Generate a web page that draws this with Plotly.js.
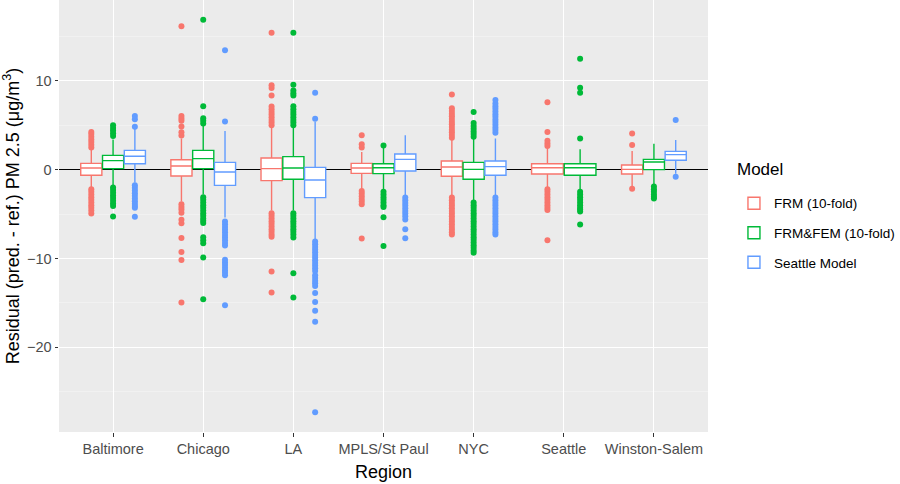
<!DOCTYPE html>
<html>
<head>
<meta charset="utf-8">
<script src="https://cdn.plot.ly/plotly-3.0.1.min.js"></script>
<style>html,body{margin:0;padding:0;background:#fff;}#chart{width:900px;height:484px;}</style>
</head>
<body>
<div id="chart"></div>
<script>
const categories = ['Baltimore','Chicago','LA','MPLS/St Paul','NYC','Seattle','Winston-Salem'];
const seriesNames = ['FRM (10-fold)','FRM&FEM (10-fold)','Seattle Model'];
const seriesColors = ['#F8766D','#00BA38','#619CFF'];
const legendTitle = 'Model';

// FRM (10-fold)
const frmQ1  = [-0.64,-0.72,-1.24,-0.42,-0.75,-0.49,-0.49];
const frmMed = [0.18,0.41,0.11,0.18,0.30,0.22,0.03];
const frmQ3  = [0.71,1.12,1.31,0.71,0.97,0.67,0.52];
const frmLo  = [-2.0,-3.6,-4.6,-2.2,-2.97,-2.0,-1.85];
const frmHi  = [2.3,3.5,4.8,2.0,3.5,2.4,2.1];
const frmOut = [
  [2.5,2.8,3.1,3.4,3.7,4.0,4.25,-2.2,-2.5,-2.8,-3.1,-3.4,-3.7,-4.0,-4.3,-4.6,-4.95],
  [3.85,4.2,4.85,5.5,5.75,6.05,16.15,-3.9,-4.2,-4.5,-4.85,-5.65,-6.05,-7.7,-9.27,-10.17,-14.96],
  [5.0,5.3,5.6,5.9,6.2,6.5,6.8,7.1,8.36,9.2,9.5,15.41,-4.9,-5.2,-5.5,-5.8,-6.1,-6.4,-6.7,-7.0,-7.3,-7.55,-11.47,-13.84],
  [2.5,2.85,3.86,-2.4,-2.7,-3.0,-3.3,-3.6,-3.9,-7.76],
  [3.6,3.9,4.2,4.5,4.8,5.1,5.4,5.7,6.0,6.3,6.6,6.9,8.47,-3.15,-3.45,-3.75,-4.05,-4.35,-4.65,-4.95,-5.25,-5.55,-5.85,-6.15,-6.45,-6.75,-7.05,-7.3],
  [2.65,2.95,3.25,4.23,7.6,-2.2,-2.5,-2.8,-3.1,-3.4,-3.7,-4.0,-4.3,-4.55,-7.95],
  [2.77,4.08,-2.15]
];

// FRM&FEM (10-fold)
const femQ1  = [0.11,0.11,-1.09,-0.45,-1.09,-0.64,0.0];
const femMed = [1.01,1.24,0.18,0.22,0.03,0.22,0.86];
const femQ3  = [1.61,2.17,1.46,0.67,0.82,0.67,1.16];
const femLo  = [-1.84,-2.8,-4.6,-2.3,-3.5,-2.3,-1.65];
const femHi  = [3.4,4.9,4.8,2.5,3.6,2.3,2.92];
const femOut = [
  [3.8,4.1,4.4,4.7,5.0,-2.0,-2.3,-2.6,-2.9,-3.2,-3.5,-3.8,-4.1,-5.29],
  [5.2,5.5,5.8,7.15,16.87,-3.1,-3.4,-3.7,-4.0,-4.3,-4.6,-4.9,-5.2,-5.5,-5.75,-6.0,-7.6,-7.95,-8.3,-9.9,-14.59],
  [5.0,5.3,5.6,5.9,6.2,6.5,6.8,7.15,8.35,8.6,8.9,9.55,15.41,-4.9,-5.2,-5.5,-5.8,-6.1,-6.4,-6.7,-7.0,-7.3,-7.65,-11.67,-14.4],
  [2.73,-2.5,-2.8,-3.1,-3.4,-3.7,-4.0,-4.2,-5.37,-8.6],
  [3.7,4.0,4.3,4.6,4.9,5.25,6.48,-3.7,-4.0,-4.3,-4.6,-4.9,-5.2,-5.5,-5.8,-6.1,-6.4,-6.7,-7.0,-7.3,-7.6,-7.9,-8.2,-8.5,-8.8,-9.1,-9.35],
  [3.52,8.66,9.22,12.49,-2.5,-2.8,-3.1,-3.4,-3.7,-4.0,-4.3,-4.5,-4.72,-6.19],
  [-1.9,-2.2,-2.5,-2.8,-3.05,-3.25]
];

// Seattle Model (no box for the Seattle region)
const smQ1  = [0.67,-1.77,-3.15,-0.16,-0.64,null,1.05];
const smMed = [1.5,-0.27,-1.17,1.16,0.34,null,1.69];
const smQ3  = [2.17,0.82,0.26,1.76,0.97,null,2.06];
const smLo  = [-1.45,-5.4,-7.8,-2.9,-2.97,null,-0.45];
const smHi  = [4.6,4.34,5.4,3.86,3.5,null,3.33];
const smOut = [
  [4.84,5.66,6.03,-1.75,-2.05,-2.35,-2.65,-2.95,-3.25,-3.55,-3.85,-4.1,-4.3,-5.3],
  [5.43,13.45,-5.85,-6.15,-6.45,-6.75,-7.05,-7.35,-7.65,-7.95,-8.25,-8.55,-10.15,-10.45,-10.75,-11.05,-11.35,-11.6,-11.9,-15.26],
  [5.74,8.66,-8.1,-8.4,-8.7,-9.0,-9.3,-9.6,-9.9,-10.2,-10.5,-10.8,-11.1,-11.4,-11.9,-12.2,-12.5,-12.8,-13.1,-13.9,-14.9,-15.9,-17.14,-27.33],
  [-3.15,-3.45,-3.75,-4.05,-4.35,-4.65,-4.95,-5.25,-5.6,-6.7,-7.73],
  [4.15,4.45,4.75,5.05,5.35,5.65,5.95,6.25,6.55,6.85,7.15,7.45,7.85,-3.15,-3.45,-3.75,-4.05,-4.35,-4.65,-4.95,-5.25,-5.55,-5.85,-6.15,-6.45,-6.75,-7.05,-7.3],
  null,
  [5.58,-0.8]
];

const seriesData = [
  {q1: frmQ1, med: frmMed, q3: frmQ3, lo: frmLo, hi: frmHi, out: frmOut},
  {q1: femQ1, med: femMed, q3: femQ3, lo: femLo, hi: femHi, out: femOut},
  {q1: smQ1,  med: smMed,  q3: smQ3,  lo: smLo,  hi: smHi,  out: smOut}
];

function makeTrace(s, idxs, opts) {
  const d = seriesData[s];
  const pick = a => idxs.map(i => a[i]);
  return Object.assign({
    type: 'box',
    name: seriesNames[s],
    legendgroup: 'g' + s,
    x: pick(categories),
    y: pick(d.out),
    q1: pick(d.q1), median: pick(d.med), q3: pick(d.q3),
    lowerfence: pick(d.lo), upperfence: pick(d.hi),
    boxpoints: 'outliers', jitter: 0, pointpos: 0,
    whiskerwidth: 0,
    fillcolor: '#FFFFFF',
    line: {color: seriesColors[s], width: 1.4},
    marker: {color: seriesColors[s], size: 6, line: {width: 0}},
    hoverinfo: 'skip'
  }, opts);
}

// Count how many series have a box in each region (ggplot dodges by the boxes present)
const present = categories.map((c, i) => seriesData.filter(d => d.med[i] !== null).length);
const traces = [];
for (let s = 0; s < 3; s++) {
  const idxs = categories.map((c, i) => i).filter(i => seriesData[s].med[i] !== null && present[i] === 3);
  traces.push(makeTrace(s, idxs, {alignmentgroup: 'three', offsetgroup: 'o' + s, showlegend: true}));
}
for (let s = 0; s < 3; s++) {
  const idxs = categories.map((c, i) => i).filter(i => seriesData[s].med[i] !== null && present[i] === 2);
  if (idxs.length) traces.push(makeTrace(s, idxs, {alignmentgroup: 'two', offsetgroup: 't' + s, showlegend: false}));
}

const font = 'Liberation Sans, Arial, sans-serif';
const layout = {
  width: 900, height: 484,
  margin: {l: 59, r: 190, t: 0, b: 52},
  paper_bgcolor: '#FFFFFF',
  plot_bgcolor: '#EBEBEB',
  font: {family: font, color: '#000000'},
  boxmode: 'group',
  boxgap: 0.275,
  boxgroupgap: 0.03,
  showlegend: true,
  legend: {
    x: 1.04, xanchor: 'left', y: 0.565, yanchor: 'top',
    font: {size: 13.5, color: '#000000'},
    traceorder: 'grouped', tracegroupgap: 9,
    bgcolor: 'rgba(0,0,0,0)'
  },
  annotations: [{
    text: legendTitle, xref: 'paper', yref: 'paper',
    x: 1.0415, y: 0.607, xanchor: 'left', yanchor: 'middle',
    showarrow: false, font: {size: 17, color: '#000000'}
  }],
  xaxis: {
    type: 'category',
    categoryorder: 'array', categoryarray: categories,
    range: [-0.6, 6.6],
    showgrid: true, gridcolor: '#FFFFFF', gridwidth: 1.1,
    zeroline: false, showline: false,
    ticks: 'outside', ticklen: 3.5, tickwidth: 1, tickcolor: '#333333',
    tickfont: {size: 14.5, color: '#4D4D4D'},
    title: {text: 'Region', font: {size: 18, color: '#000000'}, standoff: 9}
  },
  yaxis: {
    range: [-29.54, 19.1],
    tick0: 0, dtick: 10,
    showgrid: true, gridcolor: '#FFFFFF', gridwidth: 1.1,
    minor: {tick0: 0, dtick: 5, showgrid: true, gridcolor: '#F5F5F5', gridwidth: 0.55, ticks: ''},
    zeroline: true, zerolinecolor: '#000000', zerolinewidth: 1.1,
    showline: false,
    ticks: 'outside', ticklen: 3.5, tickwidth: 1, tickcolor: '#333333',
    tickfont: {size: 14.5, color: '#4D4D4D'},
    title: {text: 'Residual (pred. - ref.) PM 2.5 (μg/m<sup>3</sup>)', font: {size: 18, color: '#000000'}, standoff: 5}
  }
};

Plotly.newPlot('chart', traces, layout, {displayModeBar: false, staticPlot: true});
</script>
</body>
</html>
